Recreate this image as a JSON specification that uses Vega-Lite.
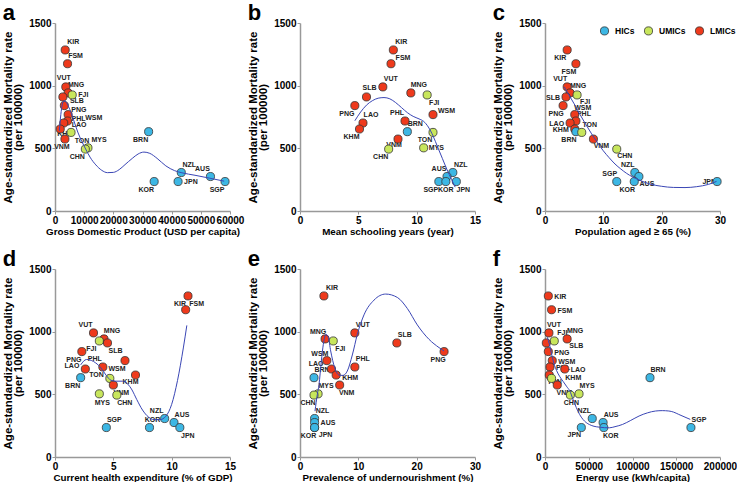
{
"$schema": "https://vega.github.io/schema/vega-lite/v6.json",
"padding": {"left": 2, "top": 2, "right": 0, "bottom": 0},
"config": {
 "font": "Liberation Sans",
 "view": {"stroke": null},
 "axis": {"grid": false, "domainColor": "#999999", "domainWidth": 1.5, "tickColor": "#999999", "tickSize": 3, "labelFontSize": 10, "labelFontWeight": "bold", "labelColor": "#000000", "titleFontSize": 9.8, "titleFontWeight": "bold", "titleColor": "#000000", "labelPadding": 1, "labelOverlap": false, "labelFlush": false},
 "axisY": {"titleFontSize": 11.5, "titlePadding": 5, "titleLineHeight": 10},
 "axisX": {"titlePadding": 1},
 "text": {"fontSize": 7, "fontWeight": "bold", "fill": "#222222", "baseline": "middle"},
 "title": {"fontSize": 22, "fontWeight": "bold", "anchor": "start", "frame": "bounds", "offset": -7, "color": "#000000"},
 "legend": {"padding": 0}
},
"datasets": {
 "countries": [
  {"c":"KIR","g":"LMICs","m":1285,"gdp":3500,"sch":8.0,"p65":3.8,"che":11.4,"pou":4.1,"eu":3800},
  {"c":"FSM","g":"LMICs","m":1175,"gdp":4300,"sch":7.8,"p65":5.3,"che":11.2,"pou":null,"eu":7500},
  {"c":"VUT","g":"LMICs","m":990,"gdp":3700,"sch":7.1,"p65":3.8,"che":3.3,"pou":9.4,"eu":4500},
  {"c":"MNG","g":"LMICs","m":942,"gdp":4500,"sch":9.5,"p65":4.3,"che":4.2,"pou":4.3,"eu":25300},
  {"c":"FJI","g":"UMICs","m":926,"gdp":5900,"sch":10.9,"p65":5.5,"che":3.8,"pou":5.7,"eu":10600},
  {"c":"SLB","g":"LMICs","m":910,"gdp":2700,"sch":5.7,"p65":3.6,"che":4.5,"pou":16.6,"eu":1500},
  {"c":"PNG","g":"LMICs","m":841,"gdp":3200,"sch":4.7,"p65":3.1,"che":2.3,"pou":24.7,"eu":3800},
  {"c":"WSM","g":"LMICs","m":769,"gdp":4500,"sch":11.4,"p65":5.1,"che":6.0,"pou":4.6,"eu":8300},
  {"c":"PHL","g":"LMICs","m":718,"gdp":4300,"sch":9.0,"p65":5.3,"che":4.1,"pou":9.4,"eu":5700},
  {"c":"LAO","g":"LMICs","m":702,"gdp":3000,"sch":5.4,"p65":4.3,"che":2.6,"pou":5.4,"eu":22600},
  {"c":"KHM","g":"LMICs","m":654,"gdp":1800,"sch":5.1,"p65":5.1,"che":6.9,"pou":6.2,"eu":4900},
  {"c":"BRN","g":"HICs","m":633,"gdp":32100,"sch":9.2,"p65":5.3,"che":2.2,"pou":2.4,"eu":120000},
  {"c":"TON","g":"UMICs","m":627,"gdp":5500,"sch":11.4,"p65":6.3,"che":4.7,"pou":null,"eu":7500},
  {"c":"VNM","g":"LMICs","m":574,"gdp":3400,"sch":8.4,"p65":8.3,"che":5.0,"pou":6.8,"eu":14000},
  {"c":"MYS","g":"UMICs","m":504,"gdp":11300,"sch":10.6,"p65":null,"che":3.8,"pou":3.1,"eu":38900},
  {"c":"CHN","g":"UMICs","m":494,"gdp":10400,"sch":7.6,"p65":12.3,"che":5.3,"pou":2.4,"eu":29000},
  {"c":"NZL","g":"HICs","m":307,"gdp":43300,"sch":13.1,"p65":15.4,"che":9.4,"pou":2.5,"eu":54000},
  {"c":"AUS","g":"HICs","m":275,"gdp":53300,"sch":12.6,"p65":16.1,"che":10.2,"pou":2.5,"eu":66400},
  {"c":"SGP","g":"HICs","m":235,"gdp":58300,"sch":11.9,"p65":12.3,"che":4.4,"pou":null,"eu":166800},
  {"c":"KOR","g":"HICs","m":235,"gdp":34000,"sch":12.5,"p65":15.3,"che":8.1,"pou":2.5,"eu":67200},
  {"c":"JPN","g":"HICs","m":235,"gdp":42200,"sch":13.4,"p65":29.5,"che":10.7,"pou":2.5,"eu":41500}
 ],
 "curveA": [
  {"gdp":1500,"m":640},{"gdp":2000,"m":770},{"gdp":2500,"m":850},{"gdp":3100,"m":880},{"gdp":3800,"m":870},{"gdp":4600,"m":835},{"gdp":5500,"m":785},{"gdp":6400,"m":725},{"gdp":7800,"m":630},{"gdp":9200,"m":555},{"gdp":10500,"m":495},{"gdp":12000,"m":430},{"gdp":14000,"m":368},{"gdp":16000,"m":325},{"gdp":18000,"m":306},{"gdp":20000,"m":308},{"gdp":22000,"m":330},{"gdp":24000,"m":370},{"gdp":26500,"m":420},{"gdp":28500,"m":455},{"gdp":30500,"m":470},{"gdp":32500,"m":460},{"gdp":35000,"m":420},{"gdp":38000,"m":360},{"gdp":41000,"m":322},{"gdp":43500,"m":305},{"gdp":48000,"m":285},{"gdp":53000,"m":262},{"gdp":58000,"m":238}
 ],
 "curveB": [
  {"sch":4.7,"m":720},{"sch":5.2,"m":790},{"sch":5.7,"m":845},{"sch":6.2,"m":880},{"sch":6.7,"m":900},{"sch":7.2,"m":905},{"sch":7.7,"m":895},{"sch":8.2,"m":865},{"sch":8.7,"m":825},{"sch":9.2,"m":785},{"sch":9.7,"m":755},{"sch":10.2,"m":735},{"sch":10.6,"m":715},{"sch":11.0,"m":670},{"sch":11.4,"m":600},{"sch":11.8,"m":510},{"sch":12.2,"m":420},{"sch":12.6,"m":330},{"sch":13.0,"m":250},{"sch":13.3,"m":190}
 ],
 "curveC": [
  {"p65":3.3,"m":990},{"p65":4,"m":935},{"p65":5,"m":855},{"p65":6,"m":770},{"p65":7,"m":690},{"p65":8,"m":615},{"p65":9,"m":545},{"p65":10,"m":480},{"p65":11,"m":425},{"p65":12,"m":375},{"p65":13,"m":335},{"p65":14,"m":300},{"p65":15,"m":272},{"p65":16,"m":250},{"p65":18,"m":215},{"p65":20,"m":197},{"p65":22,"m":188},{"p65":24,"m":187},{"p65":26,"m":194},{"p65":28,"m":212},{"p65":29.4,"m":236}
 ],
 "curveD": [
  {"che":2.2,"m":735},{"che":2.7,"m":778},{"che":3.3,"m":762},{"che":3.9,"m":715},{"che":4.4,"m":650},{"che":4.8,"m":612},{"che":5.2,"m":605},{"che":5.8,"m":605},{"che":6.2,"m":585},{"che":6.6,"m":535},{"che":7.0,"m":460},{"che":7.5,"m":375},{"che":8.0,"m":320},{"che":8.5,"m":298},{"che":9.0,"m":298},{"che":9.5,"m":325},{"che":10.0,"m":420},{"che":10.5,"m":610},{"che":11.0,"m":870},{"che":11.3,"m":1050}
 ],
 "curveE": [
  {"pou":2.57,"m":366},{"pou":2.97,"m":499},{"pou":3.26,"m":579},{"pou":3.66,"m":766},{"pou":4.0,"m":899},{"pou":4.46,"m":979},{"pou":4.86,"m":953},{"pou":5.26,"m":846},{"pou":5.94,"m":713},{"pou":6.69,"m":654},{"pou":7.37,"m":651},{"pou":8.11,"m":686},{"pou":8.97,"m":814},{"pou":9.83,"m":979},{"pou":10.97,"m":1134},{"pou":12.69,"m":1252},{"pou":14.69,"m":1300},{"pou":16.69,"m":1273},{"pou":18.4,"m":1185},{"pou":20.11,"m":1054},{"pou":22.11,"m":939},{"pou":23.83,"m":873},{"pou":24.69,"m":846}
 ],
 "curveF": [
  {"eu":2600,"m":956},{"eu":5000,"m":900},{"eu":7500,"m":822},{"eu":10000,"m":750},{"eu":13200,"m":690},{"eu":17000,"m":640},{"eu":21000,"m":600},{"eu":25000,"m":560},{"eu":28300,"m":528},{"eu":32000,"m":460},{"eu":35800,"m":394},{"eu":39500,"m":340},{"eu":43400,"m":300},{"eu":47000,"m":275},{"eu":51000,"m":258},{"eu":56000,"m":245},{"eu":62300,"m":238},{"eu":68000,"m":234},{"eu":73600,"m":233},{"eu":80000,"m":242},{"eu":88700,"m":260},{"eu":98000,"m":292},{"eu":107500,"m":327},{"eu":117000,"m":352},{"eu":126400,"m":367},{"eu":134000,"m":370},{"eu":141500,"m":367},{"eu":147000,"m":358},{"eu":152800,"m":340},{"eu":160000,"m":318},{"eu":166000,"m":300}
 ]
},
"spacing": 12,
"resolve": {"scale": {"color": "independent"}, "legend": {"color": "independent"}},
"vconcat": [
 {"hconcat": [
  {"title": {"text": "a"}, "width": 175, "height": 188, "data": {"name": "countries"},
   "encoding": {
    "x": {"field": "gdp", "type": "quantitative", "scale": {"domain": [0, 60000], "nice": false}, "axis": {"title": "Gross Domestic Product (USD per capita)", "values": [0,10000,20000,30000,40000,50000,60000], "format": "d"}},
    "y": {"field": "m", "type": "quantitative", "scale": {"domain": [0, 1500], "nice": false}, "axis": {"title": ["Age-standardized Mortality rate", "(per 100000)"], "values": [0,500,1000,1500], "format": "d"}}
   },
   "layer": [
    {"transform": [{"filter": {"field": "c", "oneOf": ["KIR","FSM","MNG","NZL"]}}], "mark": {"type": "text", "dx": 8, "dy": -8}, "encoding": {"text": {"field": "c"}}},
    {"transform": [{"filter": {"field": "c", "oneOf": ["MYS"]}}], "mark": {"type": "text", "dx": 11, "dy": -8}, "encoding": {"text": {"field": "c"}}},
    {"transform": [{"filter": {"field": "c", "oneOf": ["VUT"]}}], "mark": {"type": "text", "dx": -2, "dy": -9}, "encoding": {"text": {"field": "c"}}},
    {"transform": [{"filter": {"field": "c", "oneOf": ["FJI","JPN"]}}], "mark": {"type": "text", "dx": 6, "dy": 0, "align": "left"}, "encoding": {"text": {"field": "c"}}},
    {"transform": [{"filter": {"field": "c", "oneOf": ["SLB","PNG"]}}], "mark": {"type": "text", "dx": 7, "dy": 4, "align": "left"}, "encoding": {"text": {"field": "c"}}},
    {"transform": [{"filter": {"field": "c", "oneOf": ["PHL"]}}], "mark": {"type": "text", "dx": 4, "dy": -2, "align": "left"}, "encoding": {"text": {"field": "c"}}},
    {"transform": [{"filter": {"field": "c", "oneOf": ["WSM"]}}], "mark": {"type": "text", "dx": 17, "dy": 3, "align": "left"}, "encoding": {"text": {"field": "c"}}},
    {"transform": [{"filter": {"field": "c", "oneOf": ["LAO"]}}], "mark": {"type": "text", "dx": 8, "dy": 2, "align": "left"}, "encoding": {"text": {"field": "c"}}},
    {"transform": [{"filter": {"field": "c", "oneOf": ["TON"]}}], "mark": {"type": "text", "dx": 11, "dy": 9}, "encoding": {"text": {"field": "c"}}},
    {"transform": [{"filter": {"field": "c", "oneOf": ["KHM"]}}], "mark": {"type": "text", "dx": 5, "dy": 5}, "encoding": {"text": {"field": "c"}}},
    {"transform": [{"filter": {"field": "c", "oneOf": ["CHN","BRN","SGP","KOR"]}}], "mark": {"type": "text", "dx": -8, "dy": 8}, "encoding": {"text": {"field": "c"}}},
    {"transform": [{"filter": {"field": "c", "oneOf": ["VNM"]}}], "mark": {"type": "text", "dx": -3, "dy": 8}, "encoding": {"text": {"field": "c"}}},
    {"transform": [{"filter": {"field": "c", "oneOf": ["AUS"]}}], "mark": {"type": "text", "dx": -8, "dy": -8}, "encoding": {"text": {"field": "c"}}},
    {"mark": {"type": "circle", "size": 66, "opacity": 1, "stroke": "#333333", "strokeWidth": 0.8}, "encoding": {"color": {"field": "g", "type": "nominal", "scale": {"domain": ["HICs","UMICs","LMICs"], "range": ["#3db7e4","#c8e65c","#ee3a1c"]}, "legend": null}}},
    {"data": {"name": "curveA"}, "mark": {"type": "line", "color": "#3a46b5", "strokeWidth": 1, "interpolate": "monotone"}, "encoding": {}}
   ]
  },
  {"title": {"text": "b"}, "width": 175, "height": 188, "data": {"name": "countries"},
   "encoding": {
    "x": {"field": "sch", "type": "quantitative", "scale": {"domain": [0, 15], "nice": false}, "axis": {"title": "Mean schooling years (year)", "values": [0,5,10,15], "format": "d"}},
    "y": {"field": "m", "type": "quantitative", "scale": {"domain": [0, 1500], "nice": false}, "axis": {"title": ["Age-standardized Mortality rate", "(per 100000)"], "values": [0,500,1000,1500], "format": "d"}}
   },
   "layer": [
    {"transform": [{"filter": {"field": "c", "oneOf": ["KIR","VUT","MNG","LAO","BRN","NZL"]}}], "mark": {"type": "text", "dx": 8, "dy": -8}, "encoding": {"text": {"field": "c"}}},
    {"transform": [{"filter": {"field": "c", "oneOf": ["FSM"]}}], "mark": {"type": "text", "dx": 12, "dy": -6}, "encoding": {"text": {"field": "c"}}},
    {"transform": [{"filter": {"field": "c", "oneOf": ["SLB"]}}], "mark": {"type": "text", "dx": 3, "dy": -9}, "encoding": {"text": {"field": "c"}}},
    {"transform": [{"filter": {"field": "c", "oneOf": ["FJI","JPN"]}}], "mark": {"type": "text", "dx": 7, "dy": 8}, "encoding": {"text": {"field": "c"}}},
    {"transform": [{"filter": {"field": "c", "oneOf": ["PNG","KHM","TON","CHN","SGP"]}}], "mark": {"type": "text", "dx": -8, "dy": 8}, "encoding": {"text": {"field": "c"}}},
    {"transform": [{"filter": {"field": "c", "oneOf": ["PHL","AUS"]}}], "mark": {"type": "text", "dx": -8, "dy": -8}, "encoding": {"text": {"field": "c"}}},
    {"transform": [{"filter": {"field": "c", "oneOf": ["WSM"]}}], "mark": {"type": "text", "dx": 5, "dy": -4, "align": "left"}, "encoding": {"text": {"field": "c"}}},
    {"transform": [{"filter": {"field": "c", "oneOf": ["MYS"]}}], "mark": {"type": "text", "dx": 5, "dy": 0, "align": "left"}, "encoding": {"text": {"field": "c"}}},
    {"transform": [{"filter": {"field": "c", "oneOf": ["VNM"]}}], "mark": {"type": "text", "dx": -4, "dy": 6}, "encoding": {"text": {"field": "c"}}},
    {"transform": [{"filter": {"field": "c", "oneOf": ["KOR"]}}], "mark": {"type": "text", "dx": 0, "dy": 8}, "encoding": {"text": {"field": "c"}}},
    {"mark": {"type": "circle", "size": 66, "opacity": 1, "stroke": "#333333", "strokeWidth": 0.8}, "encoding": {"color": {"field": "g", "type": "nominal", "scale": {"domain": ["HICs","UMICs","LMICs"], "range": ["#3db7e4","#c8e65c","#ee3a1c"]}, "legend": null}}},
    {"data": {"name": "curveB"}, "mark": {"type": "line", "color": "#3a46b5", "strokeWidth": 1, "interpolate": "monotone"}, "encoding": {}}
   ]
  },
  {"title": {"text": "c"}, "width": 175, "height": 188, "data": {"name": "countries"},
   "encoding": {
    "x": {"field": "p65", "type": "quantitative", "scale": {"domain": [0, 30], "nice": false}, "axis": {"title": "Population aged ≥ 65 (%)", "values": [0,10,20,30], "format": "d"}},
    "y": {"field": "m", "type": "quantitative", "scale": {"domain": [0, 1500], "nice": false}, "axis": {"title": ["Age-standardized Mortality rate", "(per 100000)"], "values": [0,500,1000,1500], "format": "d"}}
   },
   "layer": [
    {"transform": [{"filter": {"field": "c", "oneOf": ["KIR","FSM","PNG","BRN","KOR"]}}], "mark": {"type": "text", "dx": -7, "dy": 8}, "encoding": {"text": {"field": "c"}}},
    {"transform": [{"filter": {"field": "c", "oneOf": ["VUT","NZL","SGP"]}}], "mark": {"type": "text", "dx": -7, "dy": -8}, "encoding": {"text": {"field": "c"}}},
    {"transform": [{"filter": {"field": "c", "oneOf": ["MNG","WSM","PHL","TON"]}}], "mark": {"type": "text", "dx": 8, "dy": -7}, "encoding": {"text": {"field": "c"}}},
    {"transform": [{"filter": {"field": "c", "oneOf": ["FJI","VNM","CHN","AUS"]}}], "mark": {"type": "text", "dx": 8, "dy": 7}, "encoding": {"text": {"field": "c"}}},
    {"transform": [{"filter": {"field": "c", "oneOf": ["SLB","LAO","KHM"]}}], "mark": {"type": "text", "dx": -6, "dy": 1, "align": "right"}, "encoding": {"text": {"field": "c"}}},
    {"transform": [{"filter": {"field": "c", "oneOf": ["JPN"]}}], "mark": {"type": "text", "dx": -1, "dy": 0, "align": "right"}, "encoding": {"text": {"field": "c"}}},
    {"mark": {"type": "circle", "size": 66, "opacity": 1, "stroke": "#333333", "strokeWidth": 0.8}, "encoding": {"color": {"field": "g", "type": "nominal", "scale": {"domain": ["HICs","UMICs","LMICs"], "range": ["#3db7e4","#c8e65c","#ee3a1c"]}, "legend": {"title": null, "orient": "none", "legendX": 55, "legendY": 3, "direction": "horizontal", "symbolType": "circle", "symbolSize": 66, "symbolStrokeColor": "#333333", "symbolStrokeWidth": 0.8, "labelFontSize": 8.5, "labelFontWeight": "bold", "labelColor": "#000000", "labelOffset": 6, "columnPadding": 7}}}},
    {"data": {"name": "curveC"}, "mark": {"type": "line", "color": "#3a46b5", "strokeWidth": 1, "interpolate": "monotone"}, "encoding": {}}
   ]
  }
 ], "spacing": 70, "bounds": "flush", "resolve": {"scale": {"color": "independent"}, "legend": {"color": "independent"}}},
 {"hconcat": [
  {"title": {"text": "d"}, "width": 175, "height": 188, "data": {"name": "countries"},
   "encoding": {
    "x": {"field": "che", "type": "quantitative", "scale": {"domain": [0, 15], "nice": false}, "axis": {"title": "Current health expenditure (% of GDP)", "values": [0,5,10,15], "format": "d"}},
    "y": {"field": "m", "type": "quantitative", "scale": {"domain": [0, 1500], "nice": false}, "axis": {"title": ["Age-standardized Mortality rate", "(per 100000)"], "values": [0,500,1000,1500], "format": "d"}}
   },
   "layer": [
    {"transform": [{"filter": {"field": "c", "oneOf": ["KIR","PNG","WSM","BRN","FJI"]}}], "mark": {"type": "text", "dx": -8, "dy": 8}, "encoding": {"text": {"field": "c"}}},
    {"transform": [{"filter": {"field": "c", "oneOf": ["MNG","AUS","SGP"]}}], "mark": {"type": "text", "dx": 8, "dy": -8}, "encoding": {"text": {"field": "c"}}},
    {"transform": [{"filter": {"field": "c", "oneOf": ["FSM"]}}], "mark": {"type": "text", "dx": 11, "dy": -6}, "encoding": {"text": {"field": "c"}}},
    {"transform": [{"filter": {"field": "c", "oneOf": ["VUT","PHL","NZL"]}}], "mark": {"type": "text", "dx": -8, "dy": -8}, "encoding": {"text": {"field": "c"}}},
    {"transform": [{"filter": {"field": "c", "oneOf": ["SLB","VNM","CHN","JPN"]}}], "mark": {"type": "text", "dx": 8, "dy": 8}, "encoding": {"text": {"field": "c"}}},
    {"transform": [{"filter": {"field": "c", "oneOf": ["LAO","TON"]}}], "mark": {"type": "text", "dx": -6, "dy": -3, "align": "right"}, "encoding": {"text": {"field": "c"}}},
    {"transform": [{"filter": {"field": "c", "oneOf": ["KHM"]}}], "mark": {"type": "text", "dx": -5, "dy": 7}, "encoding": {"text": {"field": "c"}}},
    {"transform": [{"filter": {"field": "c", "oneOf": ["MYS"]}}], "mark": {"type": "text", "dx": 3, "dy": 9}, "encoding": {"text": {"field": "c"}}},
    {"transform": [{"filter": {"field": "c", "oneOf": ["KOR"]}}], "mark": {"type": "text", "dx": 3, "dy": -8}, "encoding": {"text": {"field": "c"}}},
    {"mark": {"type": "circle", "size": 66, "opacity": 1, "stroke": "#333333", "strokeWidth": 0.8}, "encoding": {"color": {"field": "g", "type": "nominal", "scale": {"domain": ["HICs","UMICs","LMICs"], "range": ["#3db7e4","#c8e65c","#ee3a1c"]}, "legend": null}}},
    {"data": {"name": "curveD"}, "mark": {"type": "line", "color": "#3a46b5", "strokeWidth": 1, "interpolate": "monotone"}, "encoding": {}}
   ]
  },
  {"title": {"text": "e"}, "width": 175, "height": 188, "data": {"name": "countries"},
   "encoding": {
    "x": {"field": "pou", "type": "quantitative", "scale": {"domain": [0, 30], "nice": false}, "axis": {"title": "Prevalence of undernourishment (%)", "values": [0,10,20,30], "format": "d"}},
    "y": {"field": "m", "type": "quantitative", "scale": {"domain": [0, 1500], "nice": false}, "axis": {"title": ["Age-standardized Mortality rate", "(per 100000)"], "values": [0,500,1000,1500], "format": "d"}}
   },
   "layer": [
    {"transform": [{"filter": {"field": "c", "oneOf": ["KIR","VUT","SLB","PHL","BRN","MYS","NZL"]}}], "mark": {"type": "text", "dx": 8, "dy": -8}, "encoding": {"text": {"field": "c"}}},
    {"transform": [{"filter": {"field": "c", "oneOf": ["MNG","WSM"]}}], "mark": {"type": "text", "dx": -7, "dy": -7}, "encoding": {"text": {"field": "c"}}},
    {"transform": [{"filter": {"field": "c", "oneOf": ["LAO"]}}], "mark": {"type": "text", "dx": -8, "dy": -5, "align": "right"}, "encoding": {"text": {"field": "c"}}},
    {"transform": [{"filter": {"field": "c", "oneOf": ["FJI","VNM"]}}], "mark": {"type": "text", "dx": 7, "dy": 8}, "encoding": {"text": {"field": "c"}}},
    {"transform": [{"filter": {"field": "c", "oneOf": ["KHM"]}}], "mark": {"type": "text", "dx": 6, "dy": 3, "align": "left"}, "encoding": {"text": {"field": "c"}}},
    {"transform": [{"filter": {"field": "c", "oneOf": ["JPN"]}}], "mark": {"type": "text", "dx": 11, "dy": 7}, "encoding": {"text": {"field": "c"}}},
    {"transform": [{"filter": {"field": "c", "oneOf": ["AUS"]}}], "mark": {"type": "text", "dx": 6, "dy": 0, "align": "left"}, "encoding": {"text": {"field": "c"}}},
    {"transform": [{"filter": {"field": "c", "oneOf": ["PNG","CHN","KOR"]}}], "mark": {"type": "text", "dx": -6, "dy": 8}, "encoding": {"text": {"field": "c"}}},
    {"mark": {"type": "circle", "size": 66, "opacity": 1, "stroke": "#333333", "strokeWidth": 0.8}, "encoding": {"color": {"field": "g", "type": "nominal", "scale": {"domain": ["HICs","UMICs","LMICs"], "range": ["#3db7e4","#c8e65c","#ee3a1c"]}, "legend": null}}},
    {"data": {"name": "curveE"}, "mark": {"type": "line", "color": "#3a46b5", "strokeWidth": 1, "interpolate": "monotone"}, "encoding": {}}
   ]
  },
  {"title": {"text": "f"}, "width": 175, "height": 188, "data": {"name": "countries"},
   "encoding": {
    "x": {"field": "eu", "type": "quantitative", "scale": {"domain": [0, 200000], "nice": false}, "axis": {"title": "Energy use (kWh/capita)", "values": [0,50000,100000,150000,200000], "format": "d"}},
    "y": {"field": "m", "type": "quantitative", "scale": {"domain": [0, 1500], "nice": false}, "axis": {"title": ["Age-standardized Mortality rate", "(per 100000)"], "values": [0,500,1000,1500], "format": "d"}}
   },
   "layer": [
    {"transform": [{"filter": {"field": "c", "oneOf": ["KIR","FSM","PNG","WSM","PHL","LAO"]}}], "mark": {"type": "text", "dx": 6, "dy": 1, "align": "left"}, "encoding": {"text": {"field": "c"}}},
    {"transform": [{"filter": {"field": "c", "oneOf": ["SLB"]}}], "mark": {"type": "text", "dx": 23, "dy": 3, "align": "left"}, "encoding": {"text": {"field": "c"}}},
    {"transform": [{"filter": {"field": "c", "oneOf": ["KHM"]}}], "mark": {"type": "text", "dx": 16, "dy": 3, "align": "left"}, "encoding": {"text": {"field": "c"}}},
    {"transform": [{"filter": {"field": "c", "oneOf": ["VUT"]}}], "mark": {"type": "text", "dx": 5, "dy": -8}, "encoding": {"text": {"field": "c"}}},
    {"transform": [{"filter": {"field": "c", "oneOf": ["FJI","MNG","MYS","BRN","AUS","SGP"]}}], "mark": {"type": "text", "dx": 8, "dy": -8}, "encoding": {"text": {"field": "c"}}},
    {"transform": [{"filter": {"field": "c", "oneOf": ["TON"]}}], "mark": {"type": "text", "dx": 3, "dy": 4}, "encoding": {"text": {"field": "c"}}},
    {"transform": [{"filter": {"field": "c", "oneOf": ["VNM","KOR"]}}], "mark": {"type": "text", "dx": 7, "dy": 8}, "encoding": {"text": {"field": "c"}}},
    {"transform": [{"filter": {"field": "c", "oneOf": ["CHN"]}}], "mark": {"type": "text", "dx": 1, "dy": 8}, "encoding": {"text": {"field": "c"}}},
    {"transform": [{"filter": {"field": "c", "oneOf": ["NZL"]}}], "mark": {"type": "text", "dx": -8, "dy": -8}, "encoding": {"text": {"field": "c"}}},
    {"transform": [{"filter": {"field": "c", "oneOf": ["JPN"]}}], "mark": {"type": "text", "dx": -7, "dy": 7}, "encoding": {"text": {"field": "c"}}},
    {"mark": {"type": "circle", "size": 66, "opacity": 1, "stroke": "#333333", "strokeWidth": 0.8}, "encoding": {"color": {"field": "g", "type": "nominal", "scale": {"domain": ["HICs","UMICs","LMICs"], "range": ["#3db7e4","#c8e65c","#ee3a1c"]}, "legend": null}}},
    {"data": {"name": "curveF"}, "mark": {"type": "line", "color": "#3a46b5", "strokeWidth": 1, "interpolate": "monotone"}, "encoding": {}}
   ]
  }
 ], "spacing": 70, "bounds": "flush", "resolve": {"scale": {"color": "independent"}, "legend": {"color": "independent"}}}
]
}
